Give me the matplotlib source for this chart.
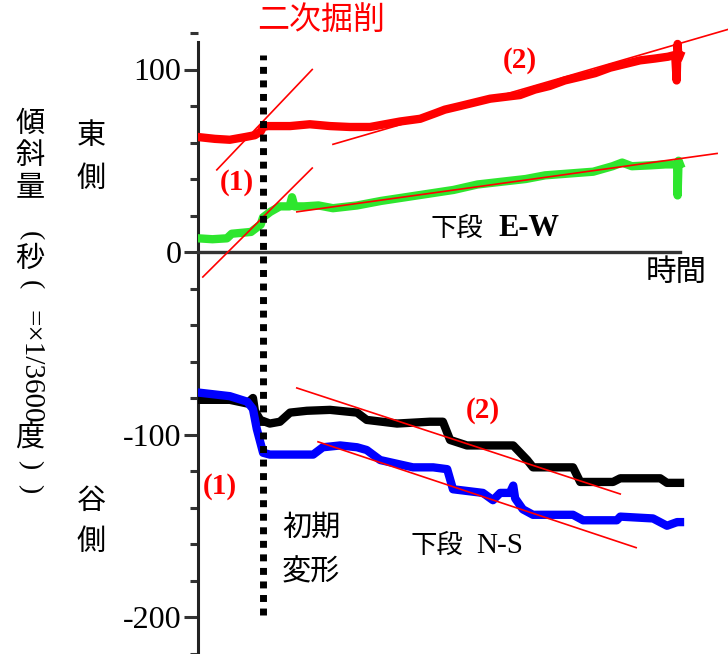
import matplotlib
matplotlib.use("Agg")
import matplotlib.pyplot as plt
import numpy as np

W, H = 728, 654
DPI = 100

# ---- data (time in arbitrary units 0..100, tilt in seconds of arc) ----
red_t = [0, 3.5, 6.6, 9.8, 11.8, 13.0, 13.5, 14.5, 19.1, 23.2, 27.4, 31.5, 35.7, 38.8, 41.9,
         46.1, 49.2, 51.2, 54.4, 57.5, 60.6, 63.7, 66.8, 69.9, 73.0, 76.1, 79.3, 82.4, 85.5,
         88.6, 91.7, 94.8, 97.5, 99.0, 99.3, 99.5, 99.7, 100]
red_v = [63, 62, 61.5, 63, 64, 66, 68.5, 69, 69, 70, 69, 68.5, 68.5, 70, 71.5,
         73, 76, 78, 80, 82, 84, 85, 86, 89, 91, 94, 96, 98, 101,
         103, 105, 106, 107, 108, 94, 114, 106, 108]

green_t = [0, 3, 6, 7, 11, 13, 13.5, 15, 17, 19, 19.5, 20, 22, 25, 28, 33, 38, 43, 48, 53,
           58, 63, 68, 72, 77, 82, 86, 88, 90, 94, 97, 99.4, 99.5, 99.7, 100]
green_v = [7.5, 7, 7.5, 10, 11, 15, 19, 22, 25, 25, 30, 25, 25, 25.5, 24, 25.5, 28, 30, 32, 34,
           37, 38.5, 40, 42, 43, 44, 47, 49, 47, 47.5, 48, 48, 31, 50, 48]

black_t = [0, 6.6, 10.2, 11.4, 11.8, 12.9, 14.9, 17.0, 19.1, 22.6, 27.4, 33.0, 35.0, 41.3,
           48.1, 50.8, 52.3, 55.8, 65.4, 68.3, 69.5, 77.8, 79.3, 86.1, 87.6, 95.9, 97.3, 100]
black_v = [-81, -81, -83, -80, -87, -92, -94, -93, -88, -87, -86.5, -88, -92, -94,
           -93, -93, -103, -106, -106, -114, -118, -118, -126, -126, -124, -124, -126.5, -126.5]

blue_t = [0, 6.6, 10.2, 11.4, 12.2, 13.5, 14.9, 23.9, 25.9, 29.5, 33.0, 35.0, 37.8, 44.6,
          48.8, 51.7, 52.9, 59.1, 61.2, 62.7, 64.7, 65.4, 65.8, 67.4, 69.5, 77.8, 79.9,
          86.9, 87.6, 94.4, 97.3, 99.4, 100]
blue_v = [-77, -79, -82, -86, -97, -110, -111, -111, -107, -106, -107, -108.5, -114, -118,
          -118, -119, -130, -132, -136, -132, -132, -128, -135, -141, -144, -144, -147,
          -147, -145, -146, -150, -148, -148]

# trend lines (start/end points)
fit_red1 = ([3.9, 23.7], [45, 100])
fit_green1 = ([1.0, 23.7], [-13.7, 46])
fit_red2 = ([28, 110], [59, 122])
fit_green2 = ([20.5, 107.7], [22, 54])
fit_black2 = ([20.5, 87.6], [-74.5, -132.6])
fit_blue2 = ([24.9, 90.9], [-104, -162])

event_t = 13.5
event_span = (-199, 108)

yticks_major = [100, 0, -100, -200]
ytick_labels = ["100", "0", "-100", "-200"]
yticks_minor = list(range(-220, 121, 20))

JP = ["Noto Sans CJK JP", "DejaVu Sans"]
SERIF = ["Liberation Serif", "DejaVu Serif"]

fig = plt.figure(figsize=(W / DPI, H / DPI), dpi=DPI)
fig.patch.set_facecolor("white")

# axes: x pixel 198 -> t=0, 4.82 px/unit; y pixel 252 -> 0, 1.825 px/unit
x0px, xs = 198, 4.82
y0px, ys = 252, 1.825
xlim = (0, (W - x0px) / xs)
ylim = ((y0px - H) / ys, y0px / ys)
ax = fig.add_axes([x0px / W, 0, 1 - x0px / W, 1])
ax.set_xlim(*xlim)
ax.set_ylim(*ylim)
ax.patch.set_alpha(0)

for s in ["top", "right"]:
    ax.spines[s].set_visible(False)
ax.spines["left"].set_linewidth(2.2)
ax.spines["left"].set_color("#222222")
ax.spines["left"].set_bounds(ylim[0], 115)
ax.spines["bottom"].set_position(("data", 0))
ax.spines["bottom"].set_bounds(0, 100)
ax.spines["bottom"].set_linewidth(2.4)
ax.spines["bottom"].set_color("#333333")
ax.set_xticks([])

ax.set_yticks(yticks_major)
ax.set_yticklabels(ytick_labels, fontfamily=SERIF, fontsize=23)
ax.set_yticks(yticks_minor, minor=True)
ax.tick_params(axis="y", which="major", length=10, width=2.2, color="#333333", pad=2)
ax.tick_params(axis="y", which="minor", length=5.5, width=2.2, color="#333333")

lw = 6
ax.plot(green_t, green_v, color="#2ee62e", lw=lw, solid_joinstyle="round", zorder=3)
ax.plot(red_t, red_v, color="#ff0000", lw=lw, solid_joinstyle="round", zorder=3)
ax.plot(black_t, black_v, color="#000000", lw=lw, solid_joinstyle="round", zorder=3)
ax.plot(blue_t, blue_v, color="#0000ff", lw=lw, solid_joinstyle="round", zorder=3)

for fx, fy in [fit_red1, fit_green1, fit_red2, fit_green2, fit_black2, fit_blue2]:
    ax.plot(fx, fy, color="#ff0000", lw=1.2, zorder=5, clip_on=False)

ax.plot([event_t, event_t], list(event_span), color="black", lw=5,
        linestyle=(0, (1, 0.95)), dash_capstyle="butt", zorder=6)


def px(x, y):
    return x / W, 1 - y / H


def ftext(x, y, s, **kw):
    kw.setdefault("ha", "center")
    kw.setdefault("va", "center")
    fig.text(*px(x, y), s, **kw)


RED = "#ff0000"
ftext(321, 20, "二次掘削", color=RED, family=JP, fontsize=23)
for (x, y, s) in [(520, 60, "(2)"), (237, 182, "(1)"), (483, 410, "(2)"), (220, 487, "(1)")]:
    ftext(x, y, s, color=RED, family=SERIF, fontsize=21, fontweight="bold")

ftext(457, 228, "下段", family=JP, fontsize=19)
ftext(498, 228, "E-W", family=SERIF, fontsize=22, fontweight="bold", ha="left")
ftext(676, 272, "時間", family=JP, fontsize=22)
ftext(311, 528, "初期", family=JP, fontsize=21)
ftext(311, 572, "変形", family=JP, fontsize=21)
ftext(437, 545, "下段", family=JP, fontsize=19)
ftext(476, 546, "N-S", family=SERIF, fontsize=21, ha="left")

for (y, s) in [(136, "東"), (179, "側"), (501, "谷"), (542, "側")]:
    ftext(91, y, s, family=JP, fontsize=21)

# vertical y-axis label
for (y, s) in [(124, "傾"), (156, "斜"), (188, "量"), (259, "秒"), (439, "度")]:
    ftext(30, y, s, family=JP, fontsize=21)
for (y, s) in [(236, "("), (285, "(")]:
    ftext(30, y, s, family=SERIF, fontsize=20, rotation=-90)
ftext(30, 367, "=×1/3600", family=SERIF, fontsize=21, rotation=-90)
for (y, s) in [(465, ")"), (489, ")")]:
    ftext(30, y, s, family=SERIF, fontsize=20, rotation=-90)

fig.savefig("out.png", dpi=DPI, facecolor="white")
